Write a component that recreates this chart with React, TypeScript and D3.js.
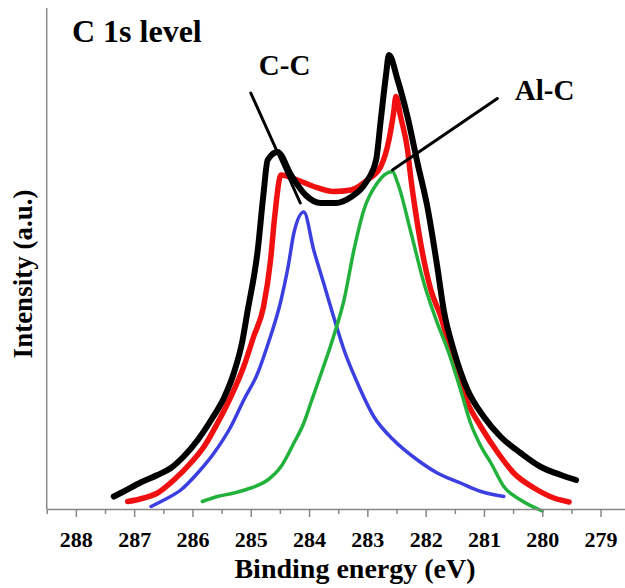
import React, { useEffect, useRef } from 'react';
import * as d3 from 'd3';

// binding energy (eV) and intensity (a.u., 0-100)
const blackE = [287.35, 287.18, 286.89, 286.6, 286.37, 286.15, 285.91, 285.68, 285.46, 285.29, 285.14, 285.06, 284.88, 284.78, 284.71, 284.54, 284.31, 284.06, 283.8, 283.54, 283.28, 283.03, 282.85, 282.77, 282.68, 282.63, 282.48, 282.31, 282.14, 281.97, 281.8, 281.69, 281.52, 281.28, 281.0, 280.71, 280.37, 280.02, 279.68, 279.42];
const blackI = [2.5, 3.5, 5.3, 6.8, 8.2, 10.5, 13.8, 17.8, 22.2, 27.2, 33.8, 39.2, 51.8, 63.2, 69.8, 71.4, 66.8, 62.8, 61.2, 61.2, 62.4, 65.2, 69.8, 77.8, 86.8, 90.8, 85.8, 78.4, 69.2, 60.4, 48.4, 39.8, 31.8, 23.8, 18.4, 14.4, 11.2, 8.4, 6.8, 5.8];

const redE = [287.11, 286.83, 286.6, 286.32, 286.03, 285.8, 285.57, 285.34, 285.12, 284.95, 284.78, 284.66, 284.59, 284.48, 284.2, 283.92, 283.58, 283.28, 283.0, 282.77, 282.63, 282.55, 282.51, 282.43, 282.31, 282.25, 282.17, 282.08, 281.91, 281.74, 281.52, 281.28, 281.05, 280.77, 280.49, 280.14, 279.8, 279.54];
const redI = [1.5, 2.2, 3.2, 5.8, 9.2, 12.5, 17.2, 22.5, 28.5, 34.5, 40.5, 49.8, 58.4, 66.8, 65.8, 64.5, 63.5, 63.8, 65.8, 68.5, 73.8, 79.2, 82.5, 78.5, 71.8, 65.8, 59.2, 52.8, 43.8, 38.5, 29.2, 21.2, 16.4, 11.4, 7.2, 4.2, 2.2, 1.4];

const blueE = [286.71, 286.49, 286.2, 285.91, 285.63, 285.34, 285.12, 284.88, 284.71, 284.48, 284.36, 284.26, 284.09, 283.92, 283.75, 283.58, 283.4, 283.17, 282.89, 282.55, 282.14, 281.8, 281.4, 281.05, 280.66];
const blueI = [0.5, 1.8, 3.8, 7.2, 11.2, 16.5, 21.8, 27.2, 32.8, 41.8, 48.4, 55.2, 59.4, 51.8, 45.2, 38.5, 31.8, 25.2, 18.5, 13.8, 9.8, 7.2, 5.2, 3.5, 2.5];

const greenE = [285.83, 285.57, 285.29, 285.0, 284.71, 284.48, 284.26, 284.09, 283.97, 283.85, 283.58, 283.4, 283.23, 283.06, 282.83, 282.57, 282.48, 282.25, 282.03, 281.8, 281.62, 281.4, 281.23, 281.05, 280.88, 280.66, 280.37, 280.0];
const greenI = [1.5, 2.5, 3.2, 4.2, 5.8, 8.5, 13.2, 17.2, 21.2, 25.2, 34.5, 41.8, 51.8, 59.8, 65.2, 67.5, 65.2, 55.2, 45.2, 37.2, 31.8, 23.8, 17.2, 12.5, 9.2, 4.5, 1.8, -0.4];

const majorTicks = [288, 287, 286, 285, 284, 283, 282, 281, 280, 279];

// peak labels with their leader lines [E, I]
const peakLabels = ['C-C', 'Al-C'];
const labelAt = [[284.42, 86.8], [280.47, 81.8]];
const leaderFrom = [[285.0, 83.2], [280.77, 82.1]];
const leaderTo = [[284.15, 61.2], [282.57, 67.8]];

const W = 625;
const H = 588;
const serif = '"Liberation Serif", "Times New Roman", serif';

const App = () => {
  const ref = useRef<SVGSVGElement>(null);

  useEffect(() => {
    const svg = d3.select(ref.current);
    svg.selectAll('*').remove();

    const x = d3.scaleLinear().domain([288.5, 278.5]).range([46.7, 629.7]);
    const y = d3.scaleLinear().domain([0, 100]).range([509, 9]);

    const line = d3
      .line<[number, number]>()
      .x((d) => x(d[0]))
      .y((d) => y(d[1]))
      .curve(d3.curveMonotoneX);

    const series = [
      { e: redE, i: redI, color: '#f01010', w: 5.5 },
      { e: blackE, i: blackI, color: '#000000', w: 6 },
      { e: blueE, i: blueI, color: '#3b3fe0', w: 3.5 },
      { e: greenE, i: greenI, color: '#22b23c', w: 3.5 },
    ];

    series.forEach((s) => {
      const pts = s.e.map((v, k) => [v, s.i[k]] as [number, number]);
      svg
        .append('path')
        .attr('d', line(pts))
        .attr('fill', 'none')
        .attr('stroke', s.color)
        .attr('stroke-width', s.w)
        .attr('stroke-linejoin', 'round')
        .attr('stroke-linecap', 'round');
    });

    // x axis
    const minor = d3.range(278.5, 289, 0.5).filter((v) => v % 1 !== 0);
    const gMinor = svg
      .append('g')
      .attr('transform', `translate(0,${y(0)})`)
      .call(d3.axisBottom(x).tickValues(minor).tickSize(5).tickSizeOuter(0).tickFormat(() => ''));
    gMinor.selectAll('line, path').attr('stroke', '#888').attr('stroke-width', 1.5);

    const gMajor = svg
      .append('g')
      .attr('transform', `translate(0,${y(0)})`)
      .call(d3.axisBottom(x).tickValues(majorTicks).tickSize(8).tickSizeOuter(0).tickFormat(d3.format('d')));
    gMajor.select('.domain').remove();
    gMajor.selectAll('line').attr('stroke', '#888').attr('stroke-width', 1.5);
    gMajor
      .selectAll('text')
      .attr('y', 22)
      .attr('dy', '0.71em')
      .attr('fill', '#000')
      .style('font-family', serif)
      .style('font-weight', 'bold')
      .style('font-size', '22px');

    // y axis (line only)
    svg
      .append('line')
      .attr('x1', x(288.5))
      .attr('x2', x(288.5))
      .attr('y1', 8)
      .attr('y2', y(0))
      .attr('stroke', '#888')
      .attr('stroke-width', 1.5);

    // leader lines and peak labels
    peakLabels.forEach((lab, k) => {
      svg
        .append('line')
        .attr('x1', x(leaderFrom[k][0]))
        .attr('y1', y(leaderFrom[k][1]))
        .attr('x2', x(leaderTo[k][0]))
        .attr('y2', y(leaderTo[k][1]))
        .attr('stroke', '#000')
        .attr('stroke-width', 3)
        .attr('stroke-linecap', 'round');
      svg
        .append('text')
        .attr('x', x(labelAt[k][0]))
        .attr('y', y(labelAt[k][1]))
        .attr('text-anchor', k === 0 ? 'middle' : 'start')
        .style('font-family', serif)
        .style('font-weight', 'bold')
        .style('font-size', '29px')
        .text(lab);
    });

    svg
      .append('text')
      .attr('x', 72)
      .attr('y', 42)
      .style('font-family', serif)
      .style('font-weight', 'bold')
      .style('font-size', '32px')
      .text('C 1s level');

    svg
      .append('text')
      .attr('x', 355)
      .attr('y', 578)
      .attr('text-anchor', 'middle')
      .style('font-family', serif)
      .style('font-weight', 'bold')
      .style('font-size', '28px')
      .text('Binding energy (eV)');

    svg
      .append('text')
      .attr('transform', 'translate(32,274) rotate(-90)')
      .attr('text-anchor', 'middle')
      .style('font-family', serif)
      .style('font-weight', 'bold')
      .style('font-size', '27px')
      .text('Intensity (a.u.)');
  }, []);

  return (
    <svg
      ref={ref}
      width={W}
      height={H}
      style={{ position: 'absolute', left: 0, top: 0, background: '#fff' }}
    ></svg>
  );
};

export default App;
